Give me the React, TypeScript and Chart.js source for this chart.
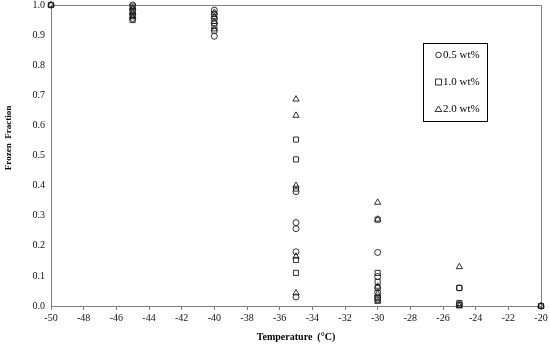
import React, { useEffect, useRef } from "react";
import { Chart, registerables } from "chart.js";

Chart.register(...registerables);

// ---- data ----
const seriesNames = ["0.5 wt%", "1.0 wt%", "2.0 wt%"];

const temps05 = [-50, -45, -45, -45, -45, -40, -40, -40, -35, -35, -35, -35, -35, -30, -30, -30, -30, -30, -25, -25, -20];
const frac05 = [1.0, 1.0, 0.985, 0.97, 0.955, 0.983, 0.94, 0.896, 0.38, 0.277, 0.257, 0.18, 0.03, 0.178, 0.098, 0.045, 0.03, 0.02, 0.06, 0.005, 0.0];

const temps10 = [-50, -45, -45, -45, -45, -40, -40, -40, -40, -35, -35, -35, -35, -35, -30, -30, -30, -30, -30, -25, -25, -25, -20];
const frac10 = [1.0, 0.995, 0.98, 0.965, 0.95, 0.97, 0.955, 0.93, 0.915, 0.553, 0.487, 0.39, 0.153, 0.11, 0.287, 0.11, 0.08, 0.06, 0.025, 0.06, 0.01, 0.003, 0.0];

const temps20 = [-50, -45, -45, -45, -40, -40, -40, -40, -35, -35, -35, -35, -35, -30, -30, -30, -30, -30, -25, -25, -20];
const frac20 = [1.0, 0.99, 0.975, 0.96, 0.975, 0.96, 0.945, 0.92, 0.687, 0.633, 0.4, 0.165, 0.043, 0.344, 0.288, 0.065, 0.04, 0.015, 0.13, 0.0, 0.0];

const xTitle = "Temperature  (\u00B0C)";
const yTitle = "Frozen  Fraction";

const pointStyles = ["circle", "rect", "triangle"];
const pointRadii = [3, 3.6, 3.6];

const FONT = "'Liberation Serif', 'Times New Roman', serif";

function toPoints(xs: number[], ys: number[]) {
  return xs.map((x, i) => ({ x, y: ys[i] }));
}

export default function App() {
  const ref = useRef<HTMLCanvasElement | null>(null);

  useEffect(() => {
    document.body.style.margin = "0";
    const canvas = ref.current;
    if (!canvas) return;

    const framePlugin = {
      id: "frame",
      beforeDatasetsDraw(chart: any) {
        const { ctx, chartArea } = chart;
        ctx.save();
        ctx.strokeStyle = "#808080";
        ctx.lineWidth = 1;
        const t = Math.round(chartArea.top) + 0.5;
        const r = Math.round(chartArea.right) + 0.5;
        const l = Math.round(chartArea.left) + 0.5;
        const b = Math.round(chartArea.bottom) + 0.5;
        ctx.beginPath();
        ctx.moveTo(l, t);
        ctx.lineTo(r, t);
        ctx.lineTo(r, b);
        ctx.stroke();
        ctx.restore();
      },
      afterDraw(chart: any) {
        const { ctx } = chart;
        // y-axis title
        ctx.save();
        ctx.fillStyle = "#000";
        ctx.font = "bold 9px " + FONT;
        ctx.textAlign = "center";
        ctx.textBaseline = "middle";
        ctx.translate(9, 138);
        ctx.rotate(-Math.PI / 2);
        ctx.fillText(yTitle, 0, 0);
        ctx.restore();

        // legend box
        const bx = 423.5, by = 43.5, bw = 64, bh = 78;
        ctx.save();
        ctx.fillStyle = "#fff";
        ctx.fillRect(bx, by, bw, bh);
        ctx.strokeStyle = "#000";
        ctx.lineWidth = 1;
        ctx.strokeRect(bx, by, bw, bh);
        const rows = [55, 82, 109];
        chart.data.datasets.forEach((ds: any, i: number) => {
          const cy = rows[i];
          ctx.lineWidth = 0.8;
          ctx.strokeStyle = "#000";
          const style = pointStyles[i];
          ctx.beginPath();
          if (style === "circle") {
            ctx.arc(438.5, cy, 2.8, 0, Math.PI * 2);
          } else if (style === "rect") {
            ctx.rect(435.5, cy - 3, 6, 6);
          } else {
            ctx.moveTo(438.5, cy - 3);
            ctx.lineTo(441.8, cy + 2.5);
            ctx.lineTo(435.2, cy + 2.5);
            ctx.closePath();
          }
          ctx.stroke();
          ctx.fillStyle = "#000";
          ctx.font = "11px " + FONT;
          ctx.textAlign = "left";
          ctx.textBaseline = "middle";
          ctx.fillText(ds.label, 443, cy + 0.5);
        });
        ctx.restore();
      },
    };

    const datasets = [
      [temps05, frac05],
      [temps10, frac10],
      [temps20, frac20],
    ].map(([xs, ys], i) => ({
      label: seriesNames[i],
      data: toPoints(xs, ys),
      pointStyle: pointStyles[i],
      pointRadius: pointRadii[i],
      borderColor: "#1a1a1a",
      backgroundColor: "rgba(0,0,0,0)",
      pointBorderWidth: 0.9,
      showLine: false,
      clip: false,
    }));

    const chart = new Chart(canvas, {
      type: "scatter",
      data: { datasets },
      plugins: [framePlugin],
      options: {
        responsive: false,
        animation: false,
        layout: { padding: { top: 5, right: 9, left: 0, bottom: 0 } },
        plugins: {
          legend: { display: false },
          tooltip: { enabled: false },
        },
        scales: {
          x: {
            type: "linear",
            min: -50,
            max: -20,
            afterFit(scale: any) {
              scale.height = 38;
              scale.paddingLeft = 0;
              scale.paddingRight = 0;
            },
            ticks: {
              stepSize: 2,
              color: "#111",
              font: { family: FONT, size: 10 },
              padding: 2,
              maxRotation: 0,
              autoSkip: false,
            },
            grid: {
              drawOnChartArea: false,
              drawTicks: true,
              tickLength: 4,
              color: "#808080",
            },
            border: { display: true, color: "#808080", width: 1 },
            title: {
              display: true,
              text: xTitle,
              color: "#000",
              font: { family: FONT, size: 10, weight: "bold" },
              padding: { top: 0, bottom: 1 },
            },
          },
          y: {
            type: "linear",
            min: 0,
            max: 1,
            afterFit(scale: any) {
              scale.width = 51;
              scale.paddingTop = 0;
              scale.paddingBottom = 0;
            },
            ticks: {
              stepSize: 0.1,
              color: "#111",
              font: { family: FONT, size: 10 },
              padding: 6,
              callback: (v: any) => Number(v).toFixed(1),
            },
            grid: {
              drawOnChartArea: false,
              drawTicks: false,
              color: "#808080",
            },
            border: { display: true, color: "#808080", width: 1 },
          },
        },
      },
    });

    return () => chart.destroy();
  }, []);

  return (
    <div style={{ width: 550, height: 344 }}>
      <canvas ref={ref} width={550} height={344} style={{ display: "block" }} />
    </div>
  );
}
